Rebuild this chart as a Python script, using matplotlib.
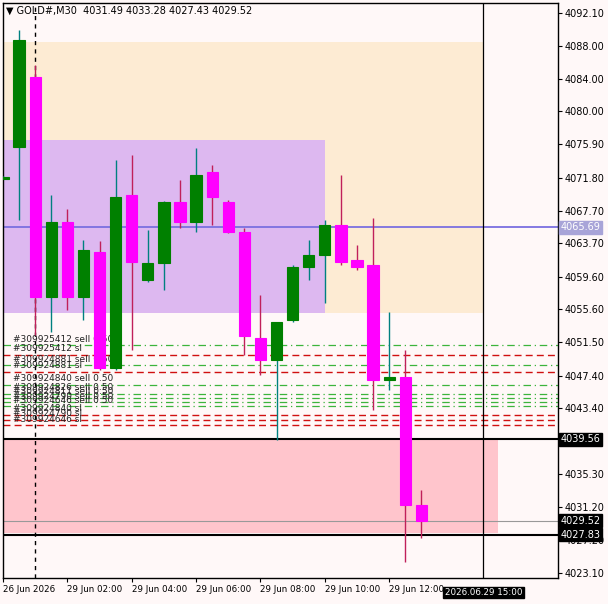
import matplotlib
matplotlib.use("Agg")
import matplotlib.pyplot as plt
from matplotlib.patches import Rectangle

idx = list(range(-24, 3))
opens  = [4071.7,4075.6,4084.2,4057.1,4066.3,4057.1,4062.6,4048.4,4069.7,4059.2,4061.3,4068.8,4066.3,4072.5,4068.8,4065.1,4052.0,4049.3,4054.3,4060.8,4062.3,4066.0,4061.7,4061.1,4046.9,4047.3,4031.49]
closes = [4071.9,4088.8,4057.1,4066.3,4057.1,4062.9,4048.4,4069.4,4061.4,4061.3,4068.8,4066.3,4072.1,4069.4,4065.1,4052.3,4049.3,4054.0,4060.8,4062.3,4066.0,4061.4,4060.8,4046.9,4047.3,4031.49,4029.52]
highs  = [4072.0,4090.0,4085.7,4069.7,4067.9,4064.1,4064.0,4074.0,4074.6,4065.4,4068.9,4071.5,4075.5,4073.4,4069.0,4065.6,4057.4,4054.0,4061.1,4064.1,4066.6,4072.1,4063.5,4066.8,4055.3,4050.6,4033.28]
lows   = [4071.6,4066.6,4052.4,4052.8,4055.5,4054.3,4048.1,4048.1,4050.6,4058.9,4058.0,4065.6,4065.1,4066.0,4065.0,4050.0,4047.5,4039.5,4054.0,4059.2,4056.4,4061.0,4060.4,4043.2,4045.6,4024.5,4027.43]

tick_pos = [-24, -20, -16, -12, -8, -4, 0]
tick_lbl = ["26 Jun 2026", "29 Jun 02:00", "29 Jun 04:00", "29 Jun 06:00", "29 Jun 08:00", "29 Jun 10:00", "29 Jun 12:00"]
ytick_vals = [4092.10,4088.00,4084.00,4080.00,4075.90,4071.80,4067.70,4063.70,4059.60,4055.60,4051.50,4047.40,4043.40,4035.30,4031.20,4027.20,4023.10]

green_levels = [4051.2, 4048.7, 4046.3, 4045.2, 4044.7, 4044.2, 4043.7]
red_levels = [4050.0, 4047.9, 4042.6, 4042.0, 4041.3]
order_labels = [(4051.2,"#309925412 sell 0.50"),(4050.0,"#309925412 sl"),(4048.7,"#309924881 sell 0.50"),
                (4047.9,"#309924881 sl"),(4046.3,"#309924840 sell 0.50"),(4045.2,"#309924826 sell 0.50"),
                (4044.7,"#309924811 sell 0.50"),(4044.2,"#309924790 sell 0.50"),(4043.7,"#309924646 sell 0.50"),
                (4042.6,"#309924840 sl"),(4042.0,"#309924790 sl"),(4041.3,"#309924646 sl")]

bg = "#fff8f8"
fig = plt.figure(figsize=(6.08, 6.04), dpi=100, facecolor=bg)
ax = fig.add_axes([3/608, 26/604, 555/608, 575/604])
ax.set_facecolor(bg)
ax.set_xlim(-23.77, 10.49)
ax.set_ylim(4022.48, 4093.33)

ax.add_patch(Rectangle((-24.5, 4055.1), 30.36, 4088.5-4055.1, color="#fdebd3", zorder=0, lw=0))
ax.add_patch(Rectangle((-24.5, 4055.1), 20.5, 4076.5-4055.1, color="#ddb8f0", zorder=0.5, lw=0))
ax.add_patch(Rectangle((-24.5, 4028.0), 31.29, 4039.7-4028.0, color="#ffc5cc", zorder=0, lw=0))

for lv in green_levels:
    ax.axhline(lv, color="#3cb43c", lw=0.9, ls=(0, (6, 3, 1, 3)), zorder=1)
for lv in red_levels:
    ax.axhline(lv, color="#d01010", lw=1.0, ls=(0, (5, 3)), zorder=1)
for lv, t in order_labels:
    ax.text(-23.4, lv + 0.15, t, fontsize=6.5, color="#222222", zorder=2, va="bottom", family="DejaVu Sans")

ax.axhline(4065.69, color="#7b6fe0", lw=1.3, zorder=1.5)
ax.axhline(4039.56, color="black", lw=1.5, zorder=1.5)
ax.axhline(4027.83, color="black", lw=1.5, zorder=1.5)
ax.axhline(4029.52, color="#999999", lw=0.8, zorder=1.5)
ax.axvline(5.86, color="black", lw=0.9, zorder=1.5)
ax.axvline(-22, color="black", lw=1, ls=(0, (3, 3)), zorder=1.5)

for i, o, c, h, l in zip(idx, opens, closes, highs, lows):
    up = c >= o
    col = "#008000" if up else "#ff00ff"
    wcol = "#008080" if up else "#c0205a"
    ax.vlines(i, l, h, color=wcol, lw=1, zorder=3)
    ax.add_patch(Rectangle((i - 0.35, min(o, c)), 0.7, max(abs(c - o), 0.15), facecolor=col,
                           edgecolor=col, lw=0.8, zorder=4))

ax.yaxis.tick_right()
ax.set_yticks(ytick_vals)
ax.set_yticklabels([f"{v:.2f}" for v in ytick_vals], fontsize=7)
ax.set_xticks(tick_pos)
ax.set_xticklabels(tick_lbl, fontsize=6.3, ha="left")
ax.tick_params(axis="both", length=3, pad=2)
for s in ax.spines.values():
    s.set_linewidth(1)

def price_box(v, fc, tc):
    ax.text(1.005, (v - 4022.48) / (4093.33 - 4022.48), f"{v:.2f}", transform=ax.transAxes,
            fontsize=7, color=tc, va="center", ha="left",
            bbox=dict(boxstyle="square,pad=0.15", fc=fc, ec=fc), zorder=10, clip_on=False)
price_box(4065.69, "#a8a4d8", "white")
price_box(4039.56, "black", "white")
price_box(4029.52, "black", "white")
price_box(4027.83, "black", "white")
ax.text(5.86, -0.025, "2026.06.29 15:00", transform=ax.get_xaxis_transform(), fontsize=6.3, color="white",
        ha="center", va="center", bbox=dict(boxstyle="square,pad=0.15", fc="black", ec="black"),
        clip_on=False, zorder=10)

ax.text(0.005, 0.995, "\u25bc GOLD#,M30  4031.49 4033.28 4027.43 4029.52", transform=ax.transAxes,
        fontsize=7, va="top", ha="left", zorder=10)

fig.savefig("out.png", dpi=100, facecolor=bg)
